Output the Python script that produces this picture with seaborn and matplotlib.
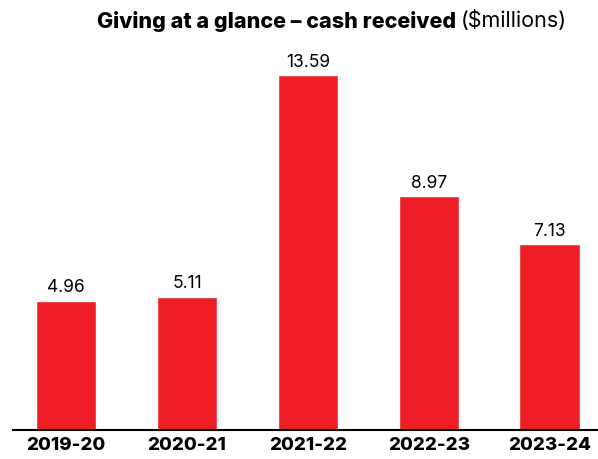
import matplotlib
matplotlib.use("Agg")
import matplotlib.pyplot as plt
import seaborn as sns
import pandas as pd

years = ["2019-20", "2020-21", "2021-22", "2022-23", "2023-24"]
cash = [4.96, 5.11, 13.59, 8.97, 7.13]
value_labels = ["4.96", "5.11", "13.59", "8.97", "7.13"]

sns.set_theme(style="white")
plt.rcParams['font.family'] = ['Inter', 'DejaVu Sans']

df = pd.DataFrame({"year": years, "cash": cash})

fig = plt.figure(figsize=(5.98, 4.60), dpi=100)
ax = fig.add_axes([13/598, 29/460, 585/598, 371/460])
sns.barplot(data=df, x="year", y="cash", color="#EE1E26", width=0.5, saturation=1, ax=ax)
ax.set_xlim(-0.44, 4.4)
ax.set_ylim(0, 14.21)
for i, (v, t) in enumerate(zip(cash, value_labels)):
    ax.text(i, v + 0.2, t, ha="center", va="bottom", fontsize=12.5, color="black")

for s in ["top", "right", "left"]:
    ax.spines[s].set_visible(False)
ax.spines["bottom"].set_color("black")
ax.spines["bottom"].set_linewidth(1.5)
ax.set_yticks([])
ax.set_xlabel("")
ax.set_ylabel("")
ax.tick_params(axis="x", length=0, pad=4)
for lbl in ax.get_xticklabels():
    lbl.set_fontweight("heavy")
    lbl.set_fontsize(13.5)
    lbl.set_color("black")

fig.canvas.draw()
r = fig.canvas.get_renderer()
t1 = fig.text(0, 1 - 21/460, "Giving at a glance – cash received ", fontsize=15.5,
              fontweight="heavy", va="center", ha="left", color="black")
t2 = fig.text(0, 1 - 21/460, "($millions)", fontsize=15.5, va="center", ha="left", color="black")
w1 = t1.get_window_extent(r).width
w2 = t2.get_window_extent(r).width
total = w1 + w2
x0 = 332 - total / 2
t1.set_x(x0 / 598)
t2.set_x((x0 + w1) / 598)

fig.savefig("out.png", dpi=100)
